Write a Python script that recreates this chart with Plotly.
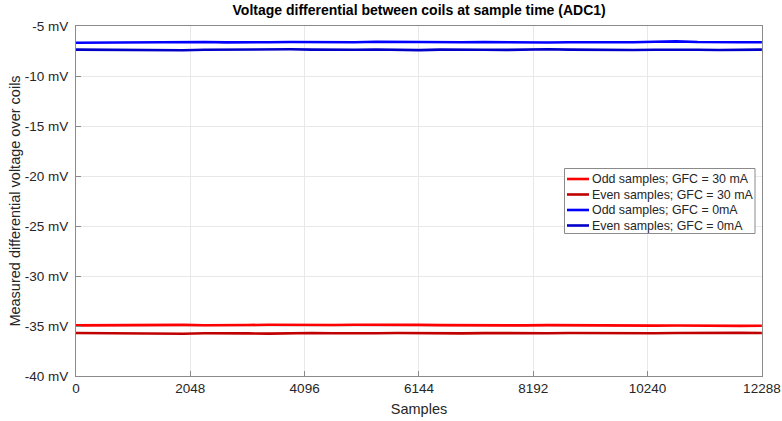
import plotly.graph_objects as go

# Sample index at which each averaged reading is taken
samples = [0, 384, 768, 1152, 1536, 1920, 2304, 2688, 3072, 3456, 3840,
           4224, 4608, 4992, 5376, 5760, 6144, 6528, 6912, 7296, 7680,
           8064, 8448, 8832, 9216, 9600, 9984, 10368, 10752, 11136, 11520,
           11904, 12288]

# Differential voltage in mV
odd_30ma = [-34.94, -34.92, -34.90, -34.93, -34.91, -34.89, -34.92, -34.94, -34.90,
            -34.88, -34.91, -34.93, -34.90, -34.87, -34.90, -34.92, -34.89, -34.91,
            -34.93, -34.90, -34.92, -34.94, -34.91, -34.93, -34.95, -34.92, -34.94,
            -34.96, -34.95, -34.98, -35.00, -34.99, -34.97]
even_30ma = [-35.70, -35.72, -35.74, -35.71, -35.75, -35.77, -35.73, -35.71, -35.74,
             -35.76, -35.72, -35.70, -35.73, -35.75, -35.72, -35.70, -35.73, -35.76,
             -35.74, -35.71, -35.73, -35.75, -35.72, -35.70, -35.72, -35.74, -35.76,
             -35.73, -35.70, -35.68, -35.70, -35.69, -35.70]
odd_0ma = [-6.68, -6.66, -6.65, -6.63, -6.58, -6.56, -6.60, -6.64, -6.66, -6.62,
           -6.60, -6.63, -6.65, -6.62, -6.58, -6.60, -6.64, -6.66, -6.63, -6.61,
           -6.64, -6.66, -6.65, -6.62, -6.64, -6.66, -6.63, -6.58, -6.54, -6.60,
           -6.64, -6.62, -6.63]
even_0ma = [-7.36, -7.38, -7.35, -7.37, -7.40, -7.42, -7.38, -7.36, -7.39, -7.35,
            -7.33, -7.36, -7.40, -7.37, -7.35, -7.38, -7.41, -7.36, -7.34, -7.37,
            -7.39, -7.35, -7.33, -7.36, -7.38, -7.41, -7.40, -7.37, -7.35, -7.38,
            -7.40, -7.37, -7.36]

series_names = ["Odd samples; GFC = 30 mA", "Even samples; GFC = 30 mA",
                "Odd samples; GFC = 0mA", "Even samples; GFC = 0mA"]
series_colors = ["#ff0000", "#c00000", "#0000ff", "#0000c8"]

x_ticks = [0, 2048, 4096, 6144, 8192, 10240, 12288]
x_tick_labels = ["0", "2048", "4096", "6144", "8192", "10240", "12288"]
y_ticks = [-40, -35, -30, -25, -20, -15, -10, -5]
y_tick_labels = ["-40 mV", "-35 mV", "-30 mV", "-25 mV", "-20 mV", "-15 mV", "-10 mV", "-5 mV"]

FONT = "Liberation Sans, Arial, sans-serif"
AXIS_GRAY = "#8a8a8a"

fig = go.Figure()
for name, color, ys in zip(series_names, series_colors,
                           [odd_30ma, even_30ma, odd_0ma, even_0ma]):
    fig.add_trace(go.Scatter(x=samples, y=ys, mode="lines", name=name,
                             line=dict(color=color, width=2.6), showlegend=False))

axis_common = dict(
    showline=True, linecolor=AXIS_GRAY, linewidth=1, mirror=True,
    showgrid=True, gridcolor="#e8e8e8", gridwidth=1, zeroline=False,
    ticks="inside", ticklen=5, tickcolor=AXIS_GRAY, automargin=False,
    tickfont=dict(family=FONT, size=13.5, color="#262626"),
)

# Compact boxed legend in the MATLAB style (paper coordinates)
plot_l, plot_r, plot_t, plot_b = 76, 762, 26, 376
def px_x(p):
    return (p - plot_l) / (plot_r - plot_l)
def px_y(p):
    return (plot_b - p) / (plot_b - plot_t)

shapes = [dict(type="rect", xref="paper", yref="paper",
               x0=px_x(564.5), x1=px_x(755), y0=px_y(233.5), y1=px_y(168.5),
               line=dict(color=AXIS_GRAY, width=1), fillcolor="white", layer="above")]
annotations = []
row_y = [179, 194.5, 210, 225.5]
for name, color, ry in zip(series_names, series_colors, row_y):
    shapes.append(dict(type="line", xref="paper", yref="paper",
                       x0=px_x(567), x1=px_x(589), y0=px_y(ry), y1=px_y(ry),
                       line=dict(color=color, width=2.6), layer="above"))
    annotations.append(dict(xref="paper", yref="paper", x=px_x(590), y=px_y(ry),
                            xanchor="left", yanchor="middle", showarrow=False,
                            text=name, font=dict(family=FONT, size=12.4, color="#262626")))

fig.update_layout(
    width=782, height=421,
    margin=dict(l=76, r=20, t=26, b=45, autoexpand=False),
    paper_bgcolor="white", plot_bgcolor="white",
    title=dict(text="<b>Voltage differential between coils at sample time (ADC1)</b>",
               x=0.536, xanchor="center", y=0.987, yanchor="top", automargin=False,
               font=dict(family=FONT, size=14, color="black")),
    xaxis=dict(range=[0, 12290], tickvals=x_ticks, ticktext=x_tick_labels,
               title=dict(text="Samples", standoff=8,
                          font=dict(family=FONT, size=14.5, color="#262626")),
               **axis_common),
    yaxis=dict(range=[-40, -5], tickvals=y_ticks, ticktext=y_tick_labels,
               ticklabelstandoff=4,
               title=dict(text="Measured differential voltage over coils", standoff=0,
                          font=dict(family=FONT, size=14.5, color="#262626")),
               **axis_common),
    shapes=shapes,
    annotations=annotations,
    showlegend=False,
)

fig.write_html("out.html")
